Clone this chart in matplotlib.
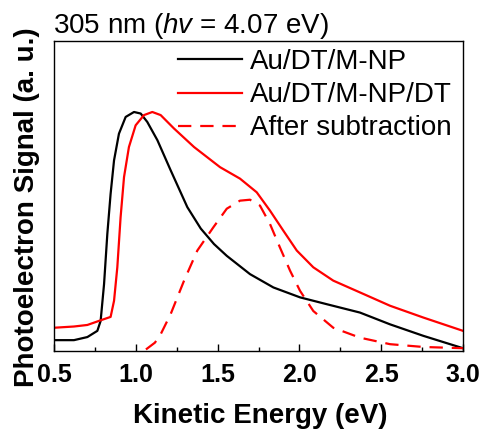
import matplotlib
matplotlib.use("Agg")
import matplotlib.pyplot as plt
from matplotlib.ticker import MultipleLocator

plt.rcParams['font.family'] = ['Liberation Sans', 'DejaVu Sans']
plt.rcParams['mathtext.fontset'] = 'custom'
plt.rcParams['mathtext.rm'] = 'Liberation Sans'
plt.rcParams['mathtext.it'] = 'Liberation Sans:italic'

black_x = [0.5, 0.622, 0.704, 0.765, 0.785, 0.806, 0.826, 0.846, 0.867, 0.897, 0.938, 0.989, 1.03,
           1.07, 1.132, 1.213, 1.315, 1.397, 1.478, 1.556, 1.698, 1.841, 2.004, 2.167, 2.37, 2.554,
           2.757, 3.0]
black_y = [0.035, 0.035, 0.045, 0.065, 0.097, 0.216, 0.378, 0.507, 0.615, 0.701, 0.755, 0.771, 0.766,
           0.739, 0.680, 0.583, 0.464, 0.395, 0.345, 0.307, 0.248, 0.205, 0.173, 0.151, 0.124, 0.086,
           0.049, 0.009]

red_x = [0.5, 0.622, 0.704, 0.785, 0.846, 0.867, 0.887, 0.907, 0.928, 0.958, 0.999, 1.05, 1.101,
         1.152, 1.233, 1.356, 1.515, 1.637, 1.739, 1.82, 1.902, 1.984, 2.085, 2.207, 2.37, 2.554,
         2.757, 3.0]
red_y = [0.075, 0.079, 0.084, 0.099, 0.110, 0.162, 0.270, 0.431, 0.561, 0.658, 0.728, 0.761, 0.771,
         0.761, 0.718, 0.658, 0.593, 0.556, 0.512, 0.453, 0.388, 0.324, 0.270, 0.227, 0.189, 0.146,
         0.108, 0.065]

sub_x = [1.062, 1.117, 1.152, 1.213, 1.295, 1.376, 1.474, 1.556, 1.637, 1.698, 1.759, 1.82, 1.881,
         1.943, 2.004, 2.085, 2.207, 2.37, 2.554, 2.757, 3.0]
sub_y = [0.005, 0.027, 0.054, 0.119, 0.227, 0.324, 0.399, 0.459, 0.485, 0.488, 0.469, 0.410, 0.334,
         0.259, 0.194, 0.129, 0.075, 0.043, 0.022, 0.013, 0.009]

labels = ["Au/DT/M-NP", "Au/DT/M-NP/DT", "After subtraction"]
xticks = [0.5, 1.0, 1.5, 2.0, 2.5, 3.0]

W, H = 481, 432
fig = plt.figure(figsize=(W / 100, H / 100), dpi=100)
ax = fig.add_axes([54 / W, 1 - 351 / H, 409 / W, 310 / H])

ax.plot(black_x, black_y, color='black', lw=1.6, label=labels[0])
ax.plot(red_x, red_y, color='#ff0000', lw=1.6, label=labels[1])
ax.plot(sub_x, sub_y, color='#ff0000', lw=1.6, ls=(0, (6, 4)), label=labels[2])

ax.set_xlim(0.5, 3.0)
ax.set_ylim(0, 1.0)
ax.set_xticks(xticks)
ax.set_xticklabels([f"{t:.1f}" for t in xticks], fontweight='bold', fontsize=18)
ax.xaxis.set_minor_locator(MultipleLocator(0.25))
ax.tick_params(axis='x', which='major', direction='in', length=5, width=1, pad=9)
ax.tick_params(axis='x', which='minor', direction='in', length=3, width=1)
ax.set_yticks([])
for s in ax.spines.values():
    s.set_linewidth(1.0)

fig.text(260 / W, 1 - 423 / H, "Kinetic Energy (eV)", fontweight='bold', fontsize=20,
         ha='center', va='baseline')
fig.text(27 / W, 1 - 207 / H, "Photoelectron Signal (a. u.)", fontweight='bold', fontsize=20,
         ha='center', va='center', rotation=90)

fig.text(53 / W, 1 - 33 / H, r"305 nm ($hv$ = 4.07 eV)", fontsize=20, ha='left', va='baseline')

leg = ax.legend(loc='upper left', bbox_to_anchor=(178 / W, 1 - 49 / H), bbox_transform=fig.transFigure,
                frameon=False, fontsize=20, handlelength=2.3, handletextpad=0.29,
                labelspacing=0.26, borderaxespad=0, borderpad=0)

fig.savefig("out.png", dpi=100)
